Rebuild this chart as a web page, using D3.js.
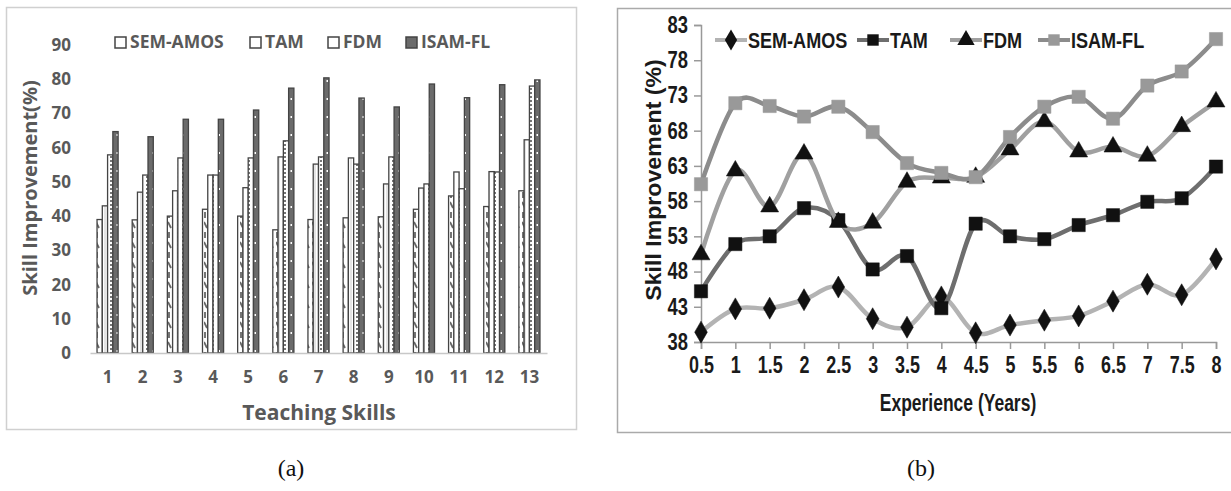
<!DOCTYPE html>
<html>
<head>
<meta charset="utf-8">
<script src="https://cdn.jsdelivr.net/npm/d3@7"></script>
<style>
  body { margin: 0; background: #fff; }
  svg { display: block; }
  .a text { font-family: "Open Sans", Lato, sans-serif; font-weight: bold; fill: #595959; }
  .b text { font-family: "Liberation Sans", Arial, sans-serif; font-weight: bold; fill: #1a1a1a; }
  .cap { font-family: "Liberation Serif", "DejaVu Serif", serif; font-size: 24px; fill: #111; }
</style>
</head>
<body>
<svg width="1231" height="491"></svg>
<script>
// ---- chart (a) data ----
var skills = ['1','2','3','4','5','6','7','8','9','10','11','12','13'];
var barSeries = ['SEM-AMOS', 'TAM', 'FDM', 'ISAM-FL'];
var semAmosBars = [39, 38.9, 40, 42, 40, 36, 39, 39.5, 39.8, 42, 45.9, 42.8, 47.4];
var tamBars     = [43, 47, 47.4, 52, 48.3, 57.3, 55.2, 57, 49.4, 48.2, 52.9, 53, 62.3];
var fdmBars     = [57.9, 52, 57, 52, 57, 62, 57.3, 55.2, 57.3, 49.4, 48, 52.9, 78];
var isamBars    = [64.7, 63.2, 68.3, 68.3, 71, 77.4, 80.4, 74.5, 71.9, 78.6, 74.6, 78.4, 79.8];
var barTicks = [0, 10, 20, 30, 40, 50, 60, 70, 80, 90];

// ---- chart (b) data ----
var years = [0.5, 1, 1.5, 2, 2.5, 3, 3.5, 4, 4.5, 5, 5.5, 6, 6.5, 7, 7.5, 8];
var semAmosLine = [39.4, 42.7, 42.8, 44, 45.8, 41.3, 40.1, 44.4, 39.3, 40.4, 41.1, 41.7, 43.8, 46.2, 44.7, 49.8];
var tamLine     = [45.2, 51.9, 53, 57, 55.3, 48.3, 50.2, 42.8, 54.8, 53, 52.6, 54.6, 56, 57.9, 58.4, 62.9];
var fdmLine     = [50.4, 62.3, 57.2, 64.7, 55, 54.9, 60.7, 61.3, 61.4, 65.3, 69.3, 65, 65.7, 64.4, 68.6, 72.1];
var isamLine    = [60.4, 71.9, 71.5, 70, 71.4, 67.8, 63.4, 62, 61.4, 67.1, 71.4, 72.8, 69.7, 74.4, 76.4, 81];
var lineTicks = [38, 43, 48, 53, 58, 63, 68, 73, 78, 83];

var svg = d3.select('svg');

// squeeze text horizontally (the (b) panel uses a narrow font)
var condense = function(sel, k) {
  sel.each(function() {
    var w = this.getComputedTextLength();
    d3.select(this).attr('textLength', w * k).attr('lengthAdjust', 'spacingAndGlyphs');
  });
};

// patterns for the bar fills
var defs = svg.append('defs');
var pSem = defs.append('pattern').attr('id', 'pSem').attr('patternUnits', 'userSpaceOnUse')
  .attr('width', 6).attr('height', 20);
pSem.append('rect').attr('width', 6).attr('height', 20).attr('fill', '#fff');
pSem.append('path').attr('d', 'M0,2 L3,8 M1,12 L1,18').attr('stroke', '#666').attr('stroke-width', 1.8);
var pTam = defs.append('pattern').attr('id', 'pTam').attr('patternUnits', 'userSpaceOnUse')
  .attr('width', 6).attr('height', 12);
pTam.append('rect').attr('width', 6).attr('height', 12).attr('fill', '#fff');
pTam.append('path').attr('d', 'M3,0 L3,12').attr('stroke', '#bbb').attr('stroke-width', 0.8);
var pFdm = defs.append('pattern').attr('id', 'pFdm').attr('patternUnits', 'userSpaceOnUse')
  .attr('width', 6).attr('height', 4);
pFdm.append('rect').attr('width', 6).attr('height', 4).attr('fill', '#fff');
pFdm.append('rect').attr('x', 2).attr('y', 0).attr('width', 2).attr('height', 2).attr('fill', '#777');
var pIsam = defs.append('pattern').attr('id', 'pIsam').attr('patternUnits', 'userSpaceOnUse')
  .attr('width', 6).attr('height', 18);
pIsam.append('rect').attr('width', 6).attr('height', 18).attr('fill', '#6b6b6b');
pIsam.append('rect').attr('x', 2.5).attr('y', 8).attr('width', 1.5).attr('height', 2).attr('fill', '#fff');
var fills = ['url(#pSem)', 'url(#pTam)', 'url(#pFdm)', 'url(#pIsam)'];

// ================= (a) bar chart =================
var ga = svg.append('g').attr('class', 'a');
ga.append('rect').attr('x', 6.5).attr('y', 7.5).attr('width', 570).attr('height', 422)
  .attr('fill', 'none').attr('stroke', '#d0d0d0').attr('stroke-width', 1.5);

var xa = d3.scaleBand().domain(skills).range([90, 547]).paddingInner(0.4).paddingOuter(0.2);
var xs = d3.scaleBand().domain(barSeries).range([0, xa.bandwidth()]);
var ya = d3.scaleLinear().domain([0, 90]).range([353, 45]);

var barData = [semAmosBars, tamBars, fdmBars, isamBars];
skills.forEach(function(s, i) {
  barSeries.forEach(function(name, j) {
    ga.append('rect')
      .attr('x', xa(s) + xs(name))
      .attr('y', ya(barData[j][i]))
      .attr('width', xs.bandwidth())
      .attr('height', ya(0) - ya(barData[j][i]))
      .attr('fill', fills[j])
      .attr('stroke', '#444')
      .attr('stroke-width', 1.3);
  });
});

var axA = ga.append('g').attr('transform', 'translate(0,353)')
  .call(d3.axisBottom(xa).tickSize(0).tickPadding(18));
axA.select('.domain').attr('stroke', '#c8c8c8').attr('stroke-width', 1.5);
axA.selectAll('text').attr('font-size', 17);

var ayA = ga.append('g').attr('transform', 'translate(90,0)')
  .call(d3.axisLeft(ya).tickValues(barTicks).tickSize(0).tickPadding(19));
ayA.select('.domain').remove();
ayA.selectAll('text').attr('font-size', 17);

ga.append('text').attr('x', 319).attr('y', 420).attr('text-anchor', 'middle')
  .attr('font-size', 21).text('Teaching Skills');
ga.append('text').attr('transform', 'translate(37,188) rotate(-90)').attr('text-anchor', 'middle')
  .attr('font-size', 20).text('Skill Improvement(%)');

// legend (a)
var legA = [115, 250, 328, 406];
barSeries.forEach(function(name, j) {
  ga.append('rect').attr('x', legA[j]).attr('y', 37).attr('width', 11).attr('height', 11)
    .attr('fill', j === 3 ? '#6b6b6b' : '#fff').attr('stroke', '#444').attr('stroke-width', 1.5);
  ga.append('text').attr('x', legA[j] + 15).attr('y', 48).attr('font-size', 17.5).text(name);
});

// ================= (b) line chart =================
var gb = svg.append('g').attr('class', 'b');
gb.append('path').attr('d', 'M1231,8.5 H617.5 V432.5 H1231')
  .attr('fill', 'none').attr('stroke', '#aaa').attr('stroke-width', 1.5);

var xb = d3.scaleLinear().domain([0.5, 8]).range([701, 1216]);
var yb = d3.scaleLinear().domain([38, 83]).range([342, 25]);

var axB = gb.append('g').attr('transform', 'translate(0,342)')
  .call(d3.axisBottom(xb).tickValues(years).tickSize(7).tickPadding(8)
    .tickFormat(function(d) { return String(d); }));
axB.selectAll('line, .domain').attr('stroke', '#999').attr('stroke-width', 1.5);
axB.selectAll('text').attr('font-size', 23).attr('fill', '#1a1a1a').call(condense, 0.78);

var ayB = gb.append('g').attr('transform', 'translate(701,0)')
  .call(d3.axisLeft(yb).tickValues(lineTicks).tickSize(7).tickPadding(6));
ayB.selectAll('line, .domain').attr('stroke', '#999').attr('stroke-width', 1.5);
ayB.selectAll('text').attr('font-size', 23).attr('fill', '#1a1a1a').call(condense, 0.8);

gb.append('text').attr('x', 958).attr('y', 411).attr('text-anchor', 'middle')
  .attr('font-size', 23).text('Experience (Years)').call(condense, 0.76);
gb.append('text').attr('transform', 'translate(661,180) rotate(-90)').attr('text-anchor', 'middle')
  .attr('font-size', 22).text('Skill Improvement (%)').call(condense, 1.05);

var lineSeries = [
  { name: 'SEM-AMOS', values: semAmosLine, line: '#b3b3b3', mark: 'diamond', fill: '#111' },
  { name: 'TAM', values: tamLine, line: '#6e6e6e', mark: 'square', fill: '#111' },
  { name: 'FDM', values: fdmLine, line: '#a0a0a0', mark: 'triangle', fill: '#111' },
  { name: 'ISAM-FL', values: isamLine, line: '#8c8c8c', mark: 'square', fill: '#999' }
];

var symbolOf = function(m, size) {
  var t = m === 'diamond' ? d3.symbolDiamond : m === 'square' ? d3.symbolSquare : d3.symbolTriangle;
  return d3.symbol().type(t).size(size)();
};

var line = d3.line()
  .x(function(d, i) { return xb(years[i]); })
  .y(function(d) { return yb(d); })
  .curve(d3.curveCatmullRom.alpha(0));

lineSeries.forEach(function(s) {
  gb.append('path').attr('d', line(s.values)).attr('fill', 'none')
    .attr('stroke', s.line).attr('stroke-width', 4.5);
  gb.selectAll(null).data(s.values).enter().append('path')
    .attr('transform', function(d, i) { return 'translate(' + xb(years[i]) + ',' + yb(d) + ')'; })
    .attr('d', symbolOf(s.mark, s.mark === 'diamond' ? 140 : s.mark === 'square' ? 175 : 140))
    .attr('fill', s.fill)
    .attr('stroke', s.fill).attr('stroke-width', 0.5);
});

// legend (b)
var legB = [715, 857, 950, 1038];
lineSeries.forEach(function(s, j) {
  gb.append('line').attr('x1', legB[j]).attr('x2', legB[j] + 32).attr('y1', 40).attr('y2', 40)
    .attr('stroke', s.line).attr('stroke-width', 4);
  gb.append('path').attr('transform', 'translate(' + (legB[j] + 16) + ',40)')
    .attr('d', symbolOf(s.mark, 130)).attr('fill', s.fill);
  gb.append('text').attr('x', legB[j] + 33).attr('y', 48).attr('font-size', 22).text(s.name)
    .call(condense, 0.82);
});

// captions
svg.append('text').attr('class', 'cap').attr('x', 291).attr('y', 476).attr('text-anchor', 'middle').text('(a)');
svg.append('text').attr('class', 'cap').attr('x', 921).attr('y', 476).attr('text-anchor', 'middle').text('(b)');
</script>
</body>
</html>
